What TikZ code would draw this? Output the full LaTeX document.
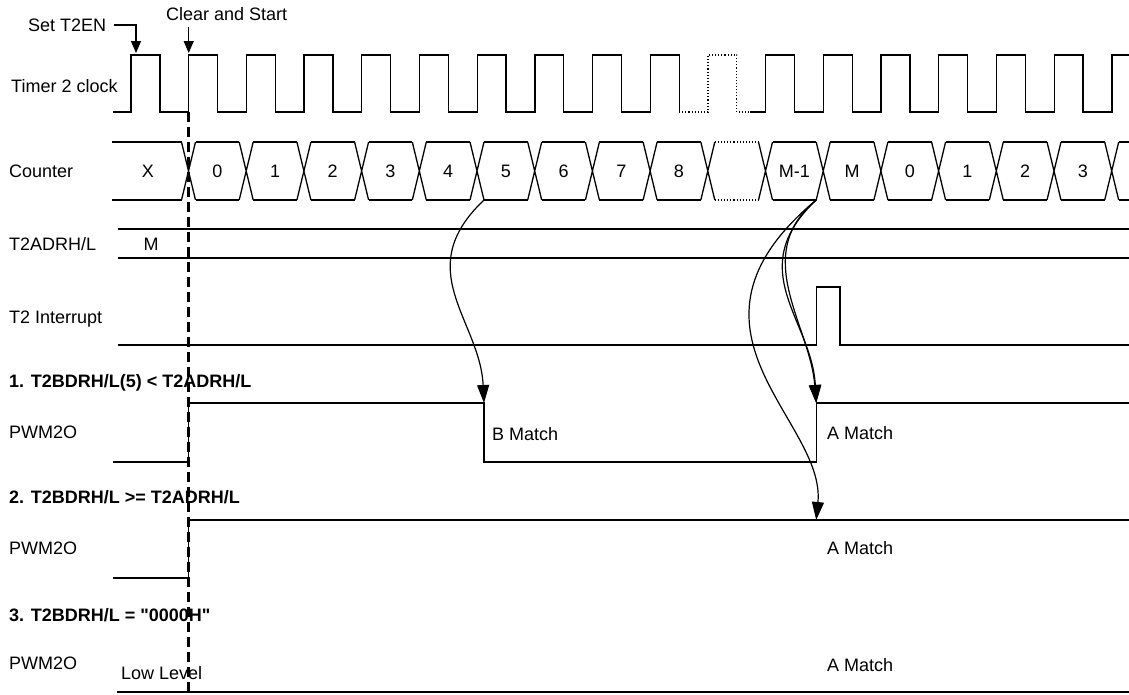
\documentclass[tikz,border=0pt]{standalone}
\usepackage{fontspec}
\setmainfont{Liberation Sans}[Ligatures=TeXOff]
\usetikzlibrary{arrows.meta}
\begin{document}
\begin{tikzpicture}[x=1pt,y=-1pt,
  sig/.style={line width=1.3pt, line join=miter},
  reg/.style={line width=1.1pt},
  lbl/.style={font=\fontsize{18}{20}\selectfont, inner sep=0pt, text height=13pt, text depth=0pt, anchor=west},
  ttl/.style={lbl, font=\fontsize{18}{20}\selectfont\bfseries},
  val/.style={lbl, anchor=center},
  dots/.style={line width=1.1pt, dotted},
  bigarr/.style={line width=1.2pt, -{Triangle[length=18pt,width=12pt]}},
  smallarr/.style={line width=1.2pt, -{Triangle[length=12pt,width=10pt]}},
  guide/.style={line width=2.6pt, dash pattern=on 10pt off 5pt}]
\useasboundingbox (0,0) rectangle (1129,694);
\fill[white] (0,0) rectangle (1129,694);

% ---------- labels ----------
\node[lbl] (sett2en) at (28,25) {Set T2EN};
\node[lbl] (clr) at (166,14) {Clear and Start};
\node[lbl] (lclk) at (11,86) {Timer 2 clock};
\node[lbl] (lcnt) at (9,171) {Counter};
\node[val] (xval) at (148,171) {X};
\node[lbl] (ladr) at (9,244) {T2ADRH/L};
\node[val] (mval) at (151,244) {M};
\node[lbl] (lint) at (9,317) {T2 Interrupt};
\node[ttl] (t1) at (9,381) {1. T2BDRH/L(5) < T2ADRH/L};
\node[lbl] (p1) at (9,432) {PWM2O};
\node[lbl] (bm) at (492,434) {B Match};
\node[lbl] (am1) at (827,433) {A Match};
\node[ttl] (t2) at (9,497) {2. T2BDRH/L >= T2ADRH/L};
\node[lbl] (p2) at (9,548) {PWM2O};
\node[lbl] (am2) at (827,548) {A Match};
\node[ttl] (t3) at (9,615) {3. T2BDRH/L = "0000H"};
\node[lbl] (p3) at (9,663) {PWM2O};
\node[lbl] (low) at (121,673) {Low Level};
\node[lbl] (am3) at (827,665) {A Match};

% ---------- clock ----------
\draw[sig] (113,112) foreach \k in {0,...,9} { -- ({131+57.7*\k},112) -- ({131+57.7*\k},55) -- ({159.85+57.7*\k},55) -- ({159.85+57.7*\k},112) };
\draw[dots] (679.15,112) -- (708,112) -- (708,55) -- (736.85,55) -- (736.85,112) -- (750,112);
\draw[sig] (750,112) foreach \k in {11,...,16} { -- ({131+57.7*\k},112) -- ({131+57.7*\k},55) -- ({159.85+57.7*\k},55) -- ({159.85+57.7*\k},112) } -- (1111.9,112) -- (1111.9,55) -- (1129,55);

% start arrows
\coordinate (t2entip) at (136,53);
\coordinate (cstip) at (188.7,53);
\draw[smallarr, shorten <=8pt] (sett2en.east) -| (t2entip);
\draw[smallarr, shorten <=6pt] (clr.south -| cstip) -- (cstip);

% ---------- counter ----------
\draw[sig] (112,142) -- (181.5,142);
\draw[sig] (112,200) -- (181.5,200);
\foreach \k in {0,...,16}{
  \pgfmathsetmacro{\cx}{188.5+57.7*\k}
  \draw[sig] ({\cx-7},142) -- ({\cx+7},200) ({\cx-7},200) -- ({\cx+7},142);
}
\foreach \k in {0,1,2,3,4,5,6,7,8,10,11,12,13,14,15}{
  \pgfmathsetmacro{\cx}{188.5+57.7*\k}
  \draw[sig] ({\cx+7},142) -- ({\cx+50.7},142) ({\cx+7},200) -- ({\cx+50.7},200);
}
\draw[dots] ({188.5+57.7*9+7},142) -- ({188.5+57.7*10-7},142);
\draw[dots] ({188.5+57.7*9+7},200) -- ({188.5+57.7*10-7},200);
\draw[sig] (1118.7,142) -- (1129,142) (1118.7,200) -- (1129,200);
\foreach \k/\v in {0/0,1/1,2/2,3/3,4/4,5/5,6/6,7/7,8/8,10/M-1,11/M,12/0,13/1,14/2,15/3}{
  \node[val] (cnt\k) at ({188.5+57.7*\k+28.85},171) {\v};
}

% ---------- T2ADRH/L ----------
\draw[reg] (118,229) -- (1129,229);
\draw[reg] (118,258) -- (1129,258);

% ---------- interrupt ----------
\draw[sig] (118,345) -- (816.2,345) -- (816.2,287) -- (840,287) -- (840,345) -- (1129,345);

% ---------- PWM2O ----------
\draw[sig] (113,462) -- (188.5,462) -- (188.5,403) -- (484,403) -- (484,462) -- (816.2,462) -- (816.2,403) -- (1129,403);
\draw[sig] (113,578) -- (188.5,578) -- (188.5,520) -- (1129,520);
\draw[sig] (117,692) -- (1129,692);

% ---------- guide ----------
\coordinate (gtop) at (188.5,112);
\coordinate (gbot) at (188.5,694);
\draw[guide] (gtop) -- (gbot);

% ---------- match curves ----------
\coordinate (bstart) at (484,200);
\coordinate (bmatch) at (484,403);
\coordinate (astart) at (816.2,200);
\coordinate (amatch1) at (816.2,403);
\coordinate (amatch2) at (816.2,520);
\draw[bigarr] (bstart) .. controls (410,270) and (480,320) .. (bmatch);
\draw[bigarr] (astart) .. controls (742,270) and (812,320) .. (amatch1);
\draw[bigarr] (astart) .. controls (750,255) and (810,325) .. (amatch1);
\draw[bigarr] (astart) .. controls (660,330) and (826,420) .. (amatch2);
\end{tikzpicture}
\end{document}
